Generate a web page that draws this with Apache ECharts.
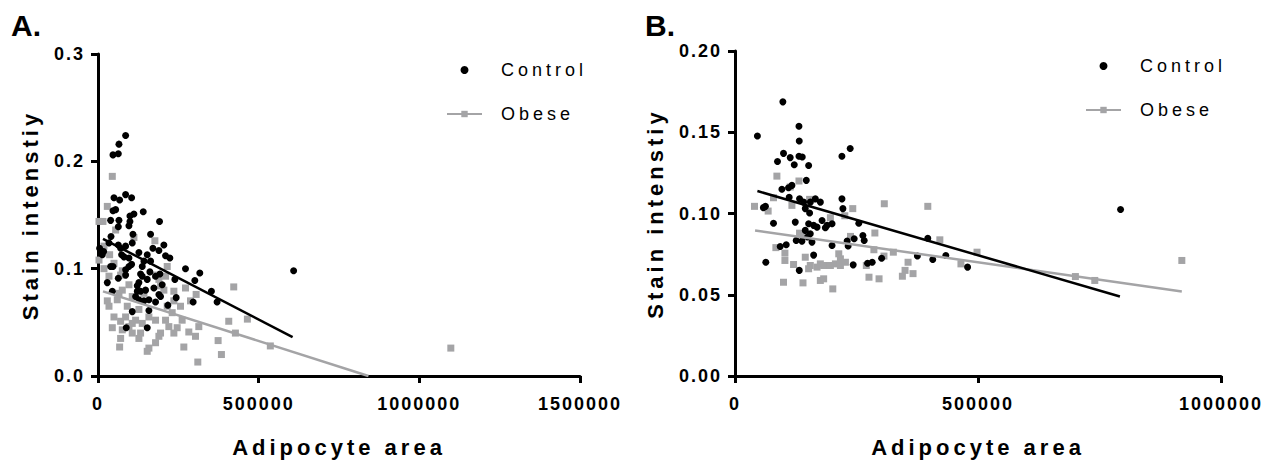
<!DOCTYPE html>
<html>
<head>
<meta charset="utf-8">
<script src="https://cdn.jsdelivr.net/npm/echarts@6/dist/echarts.min.js"></script>
<style>
html, body { margin: 0; padding: 0; background: #fff; }
#chart { width: 1286px; height: 466px; }
</style>
</head>
<body>
<div id="chart"></div>
<script>
// panel A data: [adipocyte area, stain intensity]
var controlA = [
  [85900,0.224],[65200,0.216],[46600,0.206],[63200,0.207],[85900,0.169],[104600,0.166],[49700,0.166],
  [67300,0.164],[54900,0.155],[46600,0.154],[140800,0.153],[111800,0.151],[99400,0.149],[39300,0.145],
  [65200,0.145],[191500,0.144],[99400,0.144],[96300,0.140],[63200,0.139],[108700,0.132],[163600,0.132],
  [40400,0.130],[34200,0.124],[63200,0.122],[85900,0.121],[106600,0.124],[205000,0.122],[170800,0.119],
  [189500,0.117],[17600,0.116],[13500,0.113],[127300,0.115],[153200,0.113],[73500,0.113],[210200,0.112],
  [223600,0.110],[96300,0.110],[80800,0.111],[163600,0.107],[142900,0.107],[39300,0.102],[46600,0.102],
  [96300,0.102],[104600,0.104],[85900,0.099],[272300,0.100],[608800,0.098],[132500,0.095],[161500,0.097],
  [192600,0.095],[316800,0.096],[301300,0.089],[239200,0.090],[63200,0.091],[85900,0.094],[29000,0.087],
  [127300,0.087],[137700,0.093],[153200,0.090],[199800,0.085],[44500,0.079],[122200,0.084],[122200,0.079],
  [132500,0.079],[148000,0.080],[353000,0.079],[189500,0.076],[370600,0.069],[296100,0.069],[243300,0.073],
  [217400,0.066],[142900,0.070],[158400,0.071],[179100,0.069],[194600,0.074],[106600,0.060],[158400,0.061],
  [88000,0.045],[153200,0.045],[117000,0.074],[127300,0.071],[173900,0.082],[179100,0.093],[137700,0.102],
  [70400,0.119],[5000,0.119],[8000,0.115]
];
var obeseA = [
  [44500,0.186],[29000,0.158],[15500,0.144],[3100,0.144],[18600,0.121],[36200,0.113],[18600,0.100],
  [177000,0.126],[215400,0.102],[189500,0.090],[210200,0.093],[75600,0.098],[70400,0.094],[96300,0.085],
  [75600,0.080],[65200,0.077],[29000,0.070],[34200,0.065],[272300,0.082],[422400,0.083],[305400,0.076],
  [287800,0.070],[256800,0.065],[194600,0.084],[205000,0.080],[215400,0.065],[230900,0.059],[406900,0.051],
  [464900,0.053],[427600,0.040],[536300,0.028],[373800,0.033],[384100,0.020],[310600,0.013],[70400,0.051],
  [75600,0.043],[70400,0.035],[67300,0.027],[44500,0.045],[96300,0.046],[117000,0.052],[132500,0.040],
  [127300,0.035],[158400,0.026],[153200,0.023],[179100,0.031],[194600,0.040],[220500,0.046],[236100,0.040],
  [246400,0.045],[282600,0.041],[303400,0.037],[313700,0.046],[267100,0.027],[85900,0.055],[106600,0.049],
  [49700,0.055],[91100,0.065],[127300,0.062],[158400,0.055],[179100,0.052],[210200,0.052],[137700,0.049],
  [60000,0.071],[106600,0.074],[142900,0.077],[236100,0.070],[261900,0.052],[34200,0.093],[49700,0.105],
  [54900,0.136],[111800,0.129],[3100,0.108],[179100,0.094],[236100,0.079],[106600,0.040],[189500,0.037],
  [1098000,0.026]
];
var fitControlA = [[15500,0.1278],[605600,0.0362]];
var fitObeseA = [[15500,0.0788],[841600,0]];

// panel B data
var controlB = [
  [98500,0.1687],[46100,0.1477],[131600,0.1537],[132200,0.1446],[237000,0.140],[220000,0.1352],
  [99800,0.137],[87400,0.132],[113600,0.1344],[121900,0.130],[131600,0.1352],[138400,0.1348],[151500,0.1295],
  [146700,0.1204],[96500,0.1149],[110100,0.1159],[117100,0.1173],[111500,0.110],[132800,0.109],[141100,0.107],
  [165300,0.109],[175600,0.107],[155000,0.107],[220000,0.109],[62600,0.1044],[58400,0.1036],
  [144600,0.103],[153500,0.1003],[222000,0.103],[79200,0.094],[124000,0.0947],[151500,0.0937],[161800,0.0927],
  [168800,0.0916],[179100,0.0957],[189400,0.0927],[199700,0.0937],[185900,0.0912],[254700,0.094],
  [144600,0.0896],[154900,0.0875],[149400,0.0855],[125900,0.0834],[137700,0.083],[158400,0.0824],
  [199700,0.0803],[230700,0.083],[232800,0.080],[245200,0.0845],[263100,0.0865],[265800,0.0834],
  [93000,0.0797],[105400,0.0808],[396700,0.0848],[161800,0.0744],[375300,0.0738],[406900,0.0717],
  [433800,0.0742],[478500,0.067],[301700,0.0725],[272700,0.0694],[282300,0.070],[243200,0.0684],
  [63400,0.070],[132200,0.065],[793300,0.1025]
];
var obeseB = [
  [86200,0.123],[131600,0.120],[113600,0.1163],[79200,0.1097],[40100,0.1044],[68200,0.1015],[153500,0.1087],
  [117100,0.105],[242300,0.103],[307200,0.106],[396700,0.1044],[196300,0.0974],[225900,0.0986],[287800,0.088],
  [421500,0.0838],[132800,0.0879],[141100,0.0865],[237600,0.0859],[84100,0.079],[102700,0.0756],[102700,0.0711],
  [120500,0.0686],[144600,0.0731],[154900,0.068],[151500,0.066],[168800,0.067],[175600,0.069],[182400,0.068],
  [196300,0.068],[206600,0.069],[216900,0.0721],[216900,0.068],[227200,0.070],[213500,0.0752],
  [285800,0.0777],[306500,0.0738],[325800,0.0762],[270200,0.068],[275700,0.0608],[296400,0.0598],
  [99800,0.0577],[139900,0.0573],[175600,0.0588],[182400,0.0598],[201200,0.0536],[344400,0.0614],
  [349900,0.065],[356100,0.070],[366300,0.063],[464900,0.069],[498000,0.0762],
  [700400,0.0612],[740300,0.0588],[919400,0.0711]
];
var fitControlB = [[46100,0.1138],[792000,0.0489]];
var fitObeseB = [[41300,0.0896],[919400,0.052]];

// axis ticks
var xTicksA = [0, 500000, 1000000, 1500000];
var yTicksA = [0, 0.1, 0.2, 0.3];
var xTicksB = [0, 500000, 1000000];
var yTicksB = [0, 0.05, 0.1, 0.15, 0.2];

var FONT = 'Arial, "Liberation Sans", sans-serif';
var GREY = '#a4a4a6';

function xAxis(idx, ticks) {
    return {
        type: 'value',
        gridIndex: idx,
        min: ticks[0],
        max: ticks[ticks.length - 1],
        interval: ticks[1] - ticks[0],
        name: 'Adipocyte area',
        nameLocation: 'middle',
        nameGap: 60,
        nameTextStyle: { color: '#000', fontSize: 22, fontWeight: 'bold', fontFamily: FONT },
        axisLine: { lineStyle: { color: '#000', width: 3 } },
        axisTick: { length: 7, lineStyle: { color: '#000', width: 3 } },
        axisLabel: {
            color: '#000', fontSize: 18, fontWeight: 'bold', fontFamily: FONT, margin: 19,
            formatter: function (v) { return String(v); }
        },
        splitLine: { show: false }
    };
}

function yAxis(idx, ticks, digits, gap) {
    return {
        type: 'value',
        gridIndex: idx,
        min: ticks[0],
        max: ticks[ticks.length - 1],
        interval: ticks[1] - ticks[0],
        name: 'Stain intenstiy',
        nameLocation: 'middle',
        nameRotate: 90,
        nameGap: gap,
        nameTextStyle: { color: '#000', fontSize: 22, fontWeight: 'bold', fontFamily: FONT },
        axisLine: { lineStyle: { color: '#000', width: 3 } },
        axisTick: { length: 7, lineStyle: { color: '#000', width: 3 } },
        axisLabel: {
            color: '#000', fontSize: 18, fontWeight: 'bold', fontFamily: FONT, margin: 13,
            formatter: function (v) { return v.toFixed(digits); }
        },
        splitLine: { show: false }
    };
}

function legend(left, top) {
    return {
        data: ['Control', 'Obese'],
        orient: 'vertical',
        left: left,
        top: top,
        padding: 0,
        itemWidth: 35,
        itemHeight: 8,
        itemGap: 26,
        selectedMode: false,
        textStyle: { color: '#000', fontSize: 18, fontFamily: FONT, padding: [0, 0, 0, 14] }
    };
}

function scatter(name, data, idx, symbol, color) {
    return {
        type: 'scatter',
        name: name,
        xAxisIndex: idx,
        yAxisIndex: idx,
        symbol: symbol,
        symbolSize: 7,
        symbolKeepAspect: true,
        itemStyle: { color: color, opacity: 1 },
        data: data
    };
}

function fit(name, data, idx, color, symbol) {
    return {
        type: 'line',
        name: name,
        xAxisIndex: idx,
        yAxisIndex: idx,
        symbol: symbol,
        symbolSize: 7,
        showSymbol: false,
        lineStyle: { color: color, width: 2.5 },
        itemStyle: { color: color },
        data: data
    };
}

var chart = echarts.init(document.getElementById('chart'), null, { renderer: 'svg' });
chart.setOption({
    animation: false,
    backgroundColor: '#fff',
    title: [
        { text: 'A.', left: 6, top: 5, textStyle: { fontSize: 30, fontWeight: 'bold', color: '#000', fontFamily: FONT } },
        { text: 'B.', left: 640, top: 5, textStyle: { fontSize: 30, fontWeight: 'bold', color: '#000', fontFamily: FONT } }
    ],
    legend: [legend(446, 61), legend(1085, 57)],
    grid: [
        { left: 98, top: 54, width: 482, height: 322 },
        { left: 735, top: 51, width: 486, height: 325 }
    ],
    xAxis: [xAxis(0, xTicksA), xAxis(1, xTicksB)],
    yAxis: [yAxis(0, yTicksA, 1, 57), yAxis(1, yTicksB, 2, 69)],
    series: [
        scatter('Obese points', obeseA, 0, 'rect', GREY),
        scatter('Control', controlA, 0, 'circle', '#000'),
        fit('Obese', fitObeseA, 0, GREY, 'rect'),
        fit('Control fit', fitControlA, 0, '#000', 'none'),
        scatter('Obese points B', obeseB, 1, 'rect', GREY),
        scatter('Control B', controlB, 1, 'circle', '#000'),
        fit('Obese fit B', fitObeseB, 1, GREY, 'rect'),
        fit('Control fit B', fitControlB, 1, '#000', 'none')
    ]
});

// GraphPad-style wide letter spacing on the svg text
function spaceText() {
    var nodes = document.querySelectorAll('#chart text');
    nodes.forEach(function (t) {
        var cs = getComputedStyle(t);
        var size = parseFloat(cs.fontSize);
        var bold = parseInt(cs.fontWeight, 10) >= 600;
        var sp = 0;
        if (size >= 25) sp = 0;
        else if (bold && size >= 20) sp = 4;
        else if (bold) sp = 2;
        else sp = 4;
        t.style.letterSpacing = sp + 'px';
    });
}
spaceText();
chart.on('finished', spaceText);
</script>
</body>
</html>
